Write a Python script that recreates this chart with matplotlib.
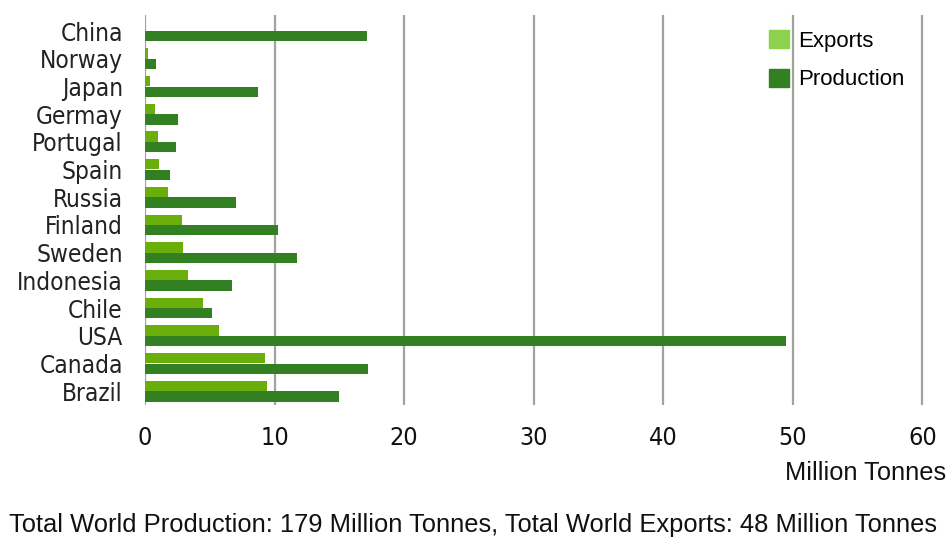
import matplotlib
matplotlib.use("Agg")
import matplotlib.pyplot as plt
from matplotlib.patches import Patch
import numpy as np

countries = ["China", "Norway", "Japan", "Germay", "Portugal", "Spain", "Russia",
             "Finland", "Sweden", "Indonesia", "Chile", "USA", "Canada", "Brazil"]
exports = [0.0, 0.2, 0.4, 0.8, 1.0, 1.05, 1.8, 2.85, 2.95, 3.3, 4.5, 5.7, 9.25, 9.4]
production = [17.1, 0.85, 8.75, 2.55, 2.4, 1.9, 7.0, 10.3, 11.7, 6.75, 5.2, 49.5, 17.2, 15.0]
x_ticks = [0, 10, 20, 30, 40, 50, 60]

W, H = 947, 540
fig = plt.figure(figsize=(W / 100, H / 100), dpi=100)
ax = fig.add_axes([145 / W, 1 - 405 / H, 1 - 145 / W, 390 / H])

export_color = "#6aae0c"
prod_color = "#338023"
legend_export = "#8ed14e"

y = np.arange(len(countries))
bh = 0.37
ax.barh(y - 0.19, exports, height=bh, color=export_color, zorder=3)
ax.barh(y + 0.19, production, height=bh, color=prod_color, zorder=3)

ax.set_xlim(0, 61.9)
ax.set_ylim(13.5, -0.58)
ax.set_xticks(x_ticks)
ax.set_xticklabels([str(t) for t in x_ticks], family="DejaVu Sans",
                   fontstretch="condensed", fontsize=18, color="#111111")
ax.set_yticks(y)
ax.set_yticklabels(countries, family="DejaVu Sans", fontstretch="condensed",
                   fontsize=17.5, color="#222222")
ax.tick_params(axis="x", length=0, pad=15)
ax.tick_params(axis="y", length=0, pad=16)
ax.grid(axis="x", color="#a3a39c", linewidth=1.6, zorder=0)
ax.set_axisbelow(True)
for s in ax.spines.values():
    s.set_visible(False)

handles = [Patch(color=legend_export), Patch(color=prod_color)]
fig.legend(handles, ["Exports", "Production"], loc="upper left",
           bbox_to_anchor=(749 / W, 1 - 10 / H), frameon=False,
           prop={"family": "Liberation Sans", "size": 16},
           handlelength=0.9, handleheight=0.9, labelspacing=0.75, handletextpad=0.4)

fig.text(946 / W, 1 - 473 / H, "Million Tonnes", ha="right", va="center",
         family="Liberation Sans", fontsize=18.3, color="#111111")
fig.text(9 / W, 1 - 525 / H,
         "Total World Production: 179 Million Tonnes, Total World Exports: 48 Million Tonnes",
         ha="left", va="center", family="Liberation Sans", fontsize=18.4, color="#111111")

fig.savefig("out.png", dpi=100)
